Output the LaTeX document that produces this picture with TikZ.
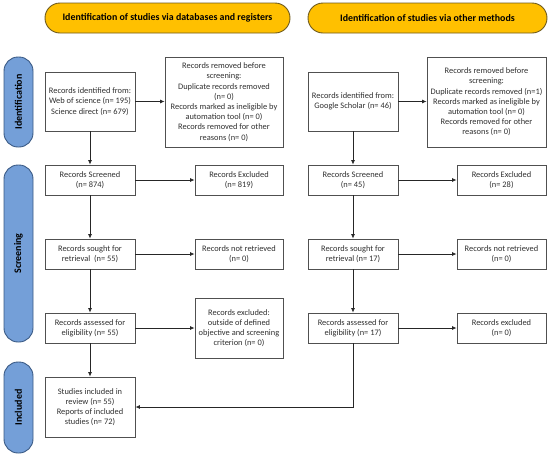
\documentclass[tikz,border=0pt]{standalone}
\usepackage{fontspec}
\setmainfont{Carlito}
\usetikzlibrary{arrows.meta}
\definecolor{hdrfill}{HTML}{FFC000}
\definecolor{hdrline}{HTML}{6E5A1E}
\definecolor{sidefill}{HTML}{749FD8}
\definecolor{sideline}{HTML}{3A5A85}
\definecolor{boxline}{HTML}{505050}
\definecolor{txt}{HTML}{303030}
\tikzset{
  x=1pt,y=-1pt,
  hdr/.style={draw=hdrline,fill=hdrfill,line width=0.9pt,rounded corners=15pt,minimum height=30pt,font=\fontsize{9.9}{11}\selectfont\bfseries,text=black,inner sep=0pt},
  side/.style={draw=sideline,fill=sidefill,line width=0.9pt,rounded corners=14pt,minimum width=29pt,inner sep=0pt},
  sidelabel/.style={rotate=90,font=\fontsize{10}{11}\selectfont\bfseries,text=black},
  box/.style={draw=boxline,line width=0.8pt,fill=white,align=center,font=\fontsize{8.4}{10.2}\selectfont,text=txt,inner sep=1pt},
  conn/.style={draw=black!85,line width=0.8pt,-{Latex[length=4.5pt,width=4pt]}},
}
\begin{document}
\begin{tikzpicture}
\useasboundingbox (0,0) rectangle (550,456);
% headers
\node[hdr,minimum width=245pt] (hdrL) at (167.5,18) {Identification of studies via databases and registers};
\node[hdr,minimum width=239pt] (hdrR) at (427.5,18) {Identification of studies via other methods};
% side bars
\node[side,minimum height=90pt] (sideId) at (18.5,102) {};
\node[sidelabel] (sideIdT) at (sideId.center) {Identification};
\node[side,minimum height=177pt] (sideScr) at (18.5,253.5) {};
\node[sidelabel] (sideScrT) at (sideScr.center) {Screening};
\node[side,minimum height=91pt] (sideInc) at (18.5,407.5) {};
\node[sidelabel] (sideIncT) at (sideInc.center) {Included};
% left column
\node[box,minimum width=90pt,minimum height=59pt] (idL) at (90,101.5) {Records identified from:\\Web of science (n= 195)\\Science direct (n= 679)};
\node[box,minimum width=118pt,minimum height=90pt] (remL) at (224,102) {Records removed before\\screening:\\Duplicate records removed\\(n= 0)\\Records marked as ineligible by\\automation tool (n= 0)\\Records removed for other\\reasons (n= 0)};
\node[box,minimum width=90pt,minimum height=30pt] (scrL) at (90,180) {Records Screened\\(n= 874)};
\node[box,minimum width=88pt,minimum height=30pt] (excL) at (239,180) {Records Excluded\\(n= 819)};
\node[box,minimum width=90pt,minimum height=30pt] (soughtL) at (90,254) {Records sought for\\retrieval~ (n= 55)};
\node[box,minimum width=88pt,minimum height=30pt] (nrL) at (239,254) {Records not retrieved\\(n= 0)};
\node[box,minimum width=90pt,minimum height=30pt] (assL) at (90,328) {Records assessed for\\eligibility (n= 55)};
\node[box,minimum width=88pt,minimum height=60pt] (exoL) at (239,328) {Records excluded:\\outside of defined\\objective and screening\\criterion (n= 0)};
\node[box,minimum width=90pt,minimum height=60pt] (incL) at (90,407) {Studies included in\\review (n= 55)\\Reports of included\\studies (n= 72)};
% right column
\node[box,minimum width=90pt,minimum height=59pt] (idR) at (353,101.5) {Records identified from:\\Google Scholar (n= 46)};
\node[box,minimum width=119pt,minimum height=90pt] (remR) at (486.5,102) {Records removed before\\screening:\\Duplicate records removed (n=1)\\Records marked as ineligible by\\automation tool (n= 0)\\Records removed for other\\reasons (n= 0)};
\node[box,minimum width=90pt,minimum height=30pt] (scrR) at (353,180) {Records Screened\\(n= 45)};
\node[box,minimum width=89pt,minimum height=30pt] (excR) at (501.5,180) {Records Excluded\\(n= 28)};
\node[box,minimum width=90pt,minimum height=30pt] (soughtR) at (353,254) {Records sought for\\retrieval (n= 17)};
\node[box,minimum width=89pt,minimum height=30pt] (nrR) at (501.5,254) {Records not retrieved\\(n= 0)};
\node[box,minimum width=90pt,minimum height=30pt] (assR) at (353,328) {Records assessed for\\eligibility (n= 17)};
\node[box,minimum width=89pt,minimum height=30pt] (exR) at (501.5,328) {Records excluded\\(n= 0)};
\coordinate (bend) at (353,407);
% connectors left
\draw[conn] (idL.east) -- (idL.east -| remL.west);
\draw[conn] (idL.south) -- (scrL.north);
\draw[conn] (scrL.east) -- (excL.west);
\draw[conn] (scrL.south) -- (soughtL.north);
\draw[conn] (soughtL.east) -- (nrL.west);
\draw[conn] (soughtL.south) -- (assL.north);
\draw[conn] (assL.east) -- (exoL.west);
\draw[conn] (assL.south) -- (incL.north);
% connectors right
\draw[conn] (idR.east) -- (idR.east -| remR.west);
\draw[conn] (idR.south) -- (scrR.north);
\draw[conn] (scrR.east) -- (excR.west);
\draw[conn] (scrR.south) -- (soughtR.north);
\draw[conn] (soughtR.east) -- (nrR.west);
\draw[conn] (soughtR.south) -- (assR.north);
\draw[conn] (assR.east) -- (exR.west);
\draw[conn] (assR.south) -- (bend) -- (incL.east);
\end{tikzpicture}
\end{document}
